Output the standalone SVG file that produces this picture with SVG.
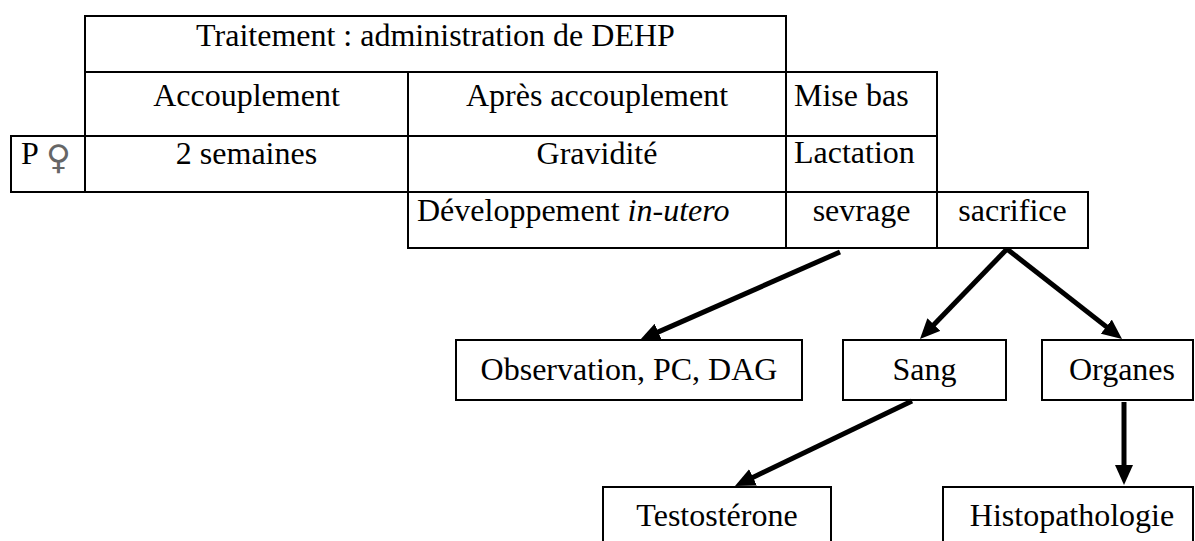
<svg xmlns="http://www.w3.org/2000/svg" width="1195" height="541" viewBox="0 0 1195 541">
<style>
.cell{fill:#fff;stroke:#000;stroke-width:2}
.box{fill:#fff;stroke:#000;stroke-width:2}
text{font-family:"Liberation Serif","Times New Roman",serif;font-size:32px;fill:#000}
.c{text-anchor:middle}
.arr{stroke:#000;stroke-width:5;fill:none;marker-end:url(#ah)}
</style>
<defs>
<marker id="ah" markerUnits="userSpaceOnUse" viewBox="0 0 20 18" markerWidth="20" markerHeight="18" refX="6" refY="9" orient="auto">
<path d="M0,0 L20,9 L0,18 z" fill="#000"/>
</marker>
</defs>
<g id="cell-traitement"><rect class="cell" x="85" y="16" width="701" height="56"/><text class="c" x="435.5" y="46">Traitement : administration de DEHP</text></g>
<g id="cell-accouplement"><rect class="cell" x="85" y="72" width="323" height="64"/><text class="c" x="246.5" y="106">Accouplement</text></g>
<g id="cell-apres"><rect class="cell" x="408" y="72" width="378" height="64"/><text class="c" x="597" y="106">Après accouplement</text></g>
<g id="cell-misebas"><rect class="cell" x="786" y="72" width="151" height="64"/><text x="794" y="106">Mise bas</text></g>
<g id="cell-p"><rect class="cell" x="11" y="136" width="74" height="56"/><text x="21" y="164">P <tspan x="46" y="169" font-family="DejaVu Sans" font-size="34" fill="#666">♀</tspan></text></g>
<g id="cell-2sem"><rect class="cell" x="85" y="136" width="323" height="56"/><text class="c" x="246.5" y="164">2 semaines</text></g>
<g id="cell-grav"><rect class="cell" x="408" y="136" width="378" height="56"/><text class="c" x="597" y="164">Gravidité</text></g>
<g id="cell-lact"><rect class="cell" x="786" y="136" width="151" height="56"/><text x="794" y="163">Lactation</text></g>
<g id="cell-dev"><rect class="cell" x="408" y="192" width="378" height="56"/><text x="417" y="221">Développement <tspan font-style="italic">in-utero</tspan></text></g>
<g id="cell-sevrage"><rect class="cell" x="786" y="192" width="151" height="56"/><text class="c" x="861.5" y="221">sevrage</text></g>
<g id="cell-sacrifice"><rect class="cell" x="937" y="192" width="151" height="56"/><text class="c" x="1012.5" y="221">sacrifice</text></g>
<g id="node-observation"><rect class="box" x="456" y="340" width="346" height="60"/><text class="c" x="629" y="380">Observation, PC, DAG</text></g>
<g id="node-sang"><rect class="box" x="843" y="340" width="163" height="60"/><text class="c" x="924.5" y="380">Sang</text></g>
<g id="node-organes"><rect class="box" x="1042" y="340" width="151" height="60"/><text class="c" x="1122" y="380">Organes</text></g>
<g id="node-testosterone"><rect class="box" x="603" y="487" width="228" height="70"/><text class="c" x="717" y="526">Testostérone</text></g>
<g id="node-histo"><rect class="box" x="943" y="487" width="250" height="70"/><text class="c" x="1072" y="526">Histopathologie</text></g>
<g id="connectors">
<line class="arr" x1="840" y1="252" x2="652.8" y2="334.4"/>
<line class="arr" x1="1007" y1="249" x2="929.7" y2="328.9"/>
<line class="arr" x1="1007" y1="249" x2="1111" y2="330.4"/>
<line class="arr" x1="912" y1="401" x2="747.6" y2="479.9"/>
<line class="arr" x1="1124" y1="402" x2="1124" y2="471"/>
</g>
</svg>
